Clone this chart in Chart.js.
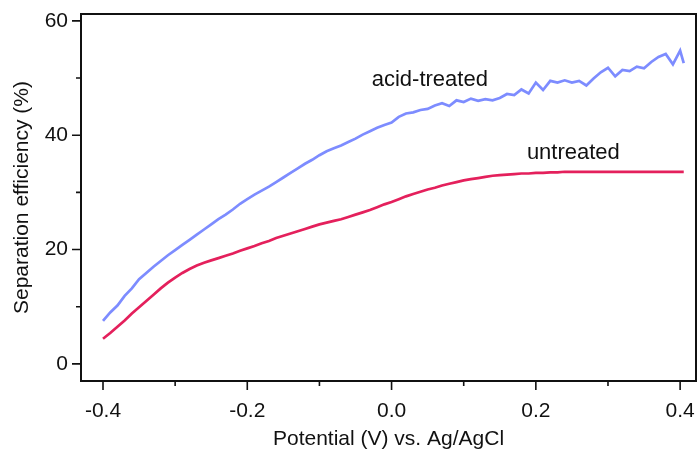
<!DOCTYPE html>
<html>
<head>
<meta charset="utf-8">
<script src="https://cdn.jsdelivr.net/npm/chart.js@4.4.1/dist/chart.umd.min.js"></script>
<style>
  html, body { margin: 0; padding: 0; background: #fff; }
  #wrap { width: 698px; height: 452px; }
</style>
</head>
<body>
<div id="wrap"><canvas id="effChart" width="698" height="452"></canvas></div>
<script>
// potential (V vs. Ag/AgCl)
var potentials = [
  -0.40, -0.39, -0.38, -0.37, -0.36, -0.35, -0.34, -0.33, -0.32, -0.31,
  -0.30, -0.29, -0.28, -0.27, -0.26, -0.25, -0.24, -0.23, -0.22, -0.21,
  -0.20, -0.19, -0.18, -0.17, -0.16, -0.15, -0.14, -0.13, -0.12, -0.11,
  -0.10, -0.09, -0.08, -0.07, -0.06, -0.05, -0.04, -0.03, -0.02, -0.01,
  0.00, 0.01, 0.02, 0.03, 0.04, 0.05, 0.06, 0.07, 0.08, 0.09,
  0.10, 0.11, 0.12, 0.13, 0.14, 0.15, 0.16, 0.17, 0.18, 0.19,
  0.20, 0.21, 0.22, 0.23, 0.24, 0.25, 0.26, 0.27, 0.28, 0.29,
  0.30, 0.31, 0.32, 0.33, 0.34, 0.35, 0.36, 0.37, 0.38, 0.39,
  0.40, 0.405
];
// separation efficiency (%)
var acidTreated = [
  7.5, 9.0, 10.2, 11.9, 13.2, 14.8, 15.9, 17.0, 18.0, 19.0,
  19.9, 20.8, 21.7, 22.6, 23.5, 24.4, 25.3, 26.1, 27.0, 28.0,
  28.8, 29.6, 30.3, 31.0, 31.8, 32.6, 33.4, 34.2, 35.0, 35.7,
  36.5, 37.2, 37.7, 38.2, 38.8, 39.4, 40.1, 40.7, 41.3, 41.8,
  42.2, 43.2, 43.8, 44.0, 44.4, 44.6, 45.2, 45.6, 45.1, 46.1,
  45.8, 46.4, 46.0, 46.3, 46.1, 46.5, 47.2, 47.0, 48.0, 47.3,
  49.2, 47.9, 49.5, 49.2, 49.6, 49.2, 49.5, 48.7, 49.9, 51.0,
  51.8, 50.3, 51.4, 51.2, 52.0, 51.7, 52.8, 53.7, 54.2, 52.4,
  54.8, 52.6
];
var untreated = [
  4.4, 5.4, 6.5, 7.6, 8.8, 9.9, 11.0, 12.1, 13.2, 14.2,
  15.1, 15.9, 16.6, 17.2, 17.7, 18.1, 18.5, 18.9, 19.3, 19.8,
  20.2, 20.6, 21.1, 21.5, 22.0, 22.4, 22.8, 23.2, 23.6, 24.0,
  24.4, 24.7, 25.0, 25.3, 25.7, 26.1, 26.5, 26.9, 27.4, 27.9,
  28.3, 28.8, 29.3, 29.7, 30.1, 30.5, 30.8, 31.2, 31.5, 31.8,
  32.1, 32.3, 32.5, 32.7, 32.9, 33.0, 33.1, 33.2, 33.3, 33.3,
  33.4, 33.4, 33.5, 33.5, 33.6, 33.6, 33.6, 33.6, 33.6, 33.6,
  33.6, 33.6, 33.6, 33.6, 33.6, 33.6, 33.6, 33.6, 33.6, 33.6,
  33.6, 33.6
];
var xTicks = [-0.4, -0.3, -0.2, -0.1, 0.0, 0.1, 0.2, 0.3, 0.4];
var xLabels = ["-0.4", "", "-0.2", "", "0.0", "", "0.2", "", "0.4"];
var yTicks = [0, 10, 20, 30, 40, 50, 60];
var yLabels = ["0", "", "20", "", "40", "", "60"];
var seriesNames = ["acid-treated", "untreated"];

var FONT = "'Liberation Sans', Arial, sans-serif";

function toPoints(xs, ys) {
  return xs.map(function (x, i) { return { x: x, y: ys[i] }; });
}

// frame, outward tick marks and in-plot labels
var framePlugin = {
  id: "frame",
  afterDraw: function (chart) {
    var ctx = chart.ctx;
    var a = chart.chartArea;
    var xs = chart.scales.x;
    var ys = chart.scales.y;
    ctx.save();
    ctx.strokeStyle = "#111";
    ctx.lineWidth = 2;
    ctx.strokeRect(a.left, a.top, a.right - a.left, a.bottom - a.top);
    ctx.lineWidth = 1.6;
    ctx.beginPath();
    xTicks.forEach(function (v, i) {
      var px = xs.getPixelForValue(v);
      var len = xLabels[i] ? 9 : 5;
      ctx.moveTo(px, a.bottom);
      ctx.lineTo(px, a.bottom + len);
    });
    yTicks.forEach(function (v, i) {
      var py = ys.getPixelForValue(v);
      var len = yLabels[i] ? 9 : 5;
      ctx.moveTo(a.left, py);
      ctx.lineTo(a.left - len, py);
    });
    ctx.stroke();

    ctx.fillStyle = "#111";
    ctx.font = "22px " + FONT;
    ctx.textAlign = "center";
    ctx.textBaseline = "middle";
    ctx.fillText(seriesNames[0], xs.getPixelForValue(0.053), ys.getPixelForValue(49.7));
    ctx.fillText(seriesNames[1], xs.getPixelForValue(0.252), ys.getPixelForValue(36.9));
    ctx.restore();
  }
};

var ctx = document.getElementById("effChart").getContext("2d");
var effChart = new Chart(ctx, {
  type: "line",
  data: {
    datasets: [
      {
        label: seriesNames[0],
        data: toPoints(potentials, acidTreated),
        borderColor: "rgb(125,140,255)",
        borderWidth: 2.7,
        pointRadius: 0,
        tension: 0,
      },
      {
        label: seriesNames[1],
        data: toPoints(potentials, untreated),
        borderColor: "rgb(228,32,92)",
        borderWidth: 2.7,
        pointRadius: 0,
        tension: 0,
      },
    ],
  },
  options: {
    responsive: false,
    animation: false,
    devicePixelRatio: 1,
    layout: { padding: { top: 14, right: 2, left: 0, bottom: 0 } },
    plugins: { legend: { display: false }, tooltip: { enabled: false } },
    scales: {
      x: {
        type: "linear",
        min: -0.4305,
        max: 0.422,
        grid: { display: false, drawTicks: false },
        border: { display: false },
        afterBuildTicks: function (scale) {
          scale.ticks = xTicks.map(function (v) { return { value: v }; });
        },
        afterFit: function (scale) {
          scale.height = 71;
          scale.paddingLeft = 0;
          scale.paddingRight = 0;
        },
        ticks: {
          autoSkip: false,
          maxRotation: 0,
          padding: 18,
          color: "#111",
          font: { family: FONT, size: 21 },
          callback: function (value, index) { return xLabels[index]; },
        },
        title: {
          display: true,
          text: "Potential (V) vs. Ag/AgCl",
          color: "#111",
          font: { family: FONT, size: 21 },
          padding: { top: 0, bottom: 0 },
        },
      },
      y: {
        min: -3,
        max: 61.2,
        grid: { display: false, drawTicks: false },
        border: { display: false },
        afterBuildTicks: function (scale) {
          scale.ticks = yTicks.map(function (v) { return { value: v }; });
        },
        afterFit: function (scale) {
          scale.width = 81;
          scale.paddingTop = 0;
          scale.paddingBottom = 0;
        },
        ticks: {
          autoSkip: false,
          padding: 13,
          color: "#111",
          font: { family: FONT, size: 21 },
          callback: function (value, index) { return yLabels[index]; },
        },
        title: {
          display: true,
          text: "Separation efficiency (%)",
          color: "#111",
          font: { family: FONT, size: 21 },
          padding: { top: 10, bottom: 0 },
        },
      },
    },
  },
  plugins: [framePlugin],
});
</script>
</body>
</html>
